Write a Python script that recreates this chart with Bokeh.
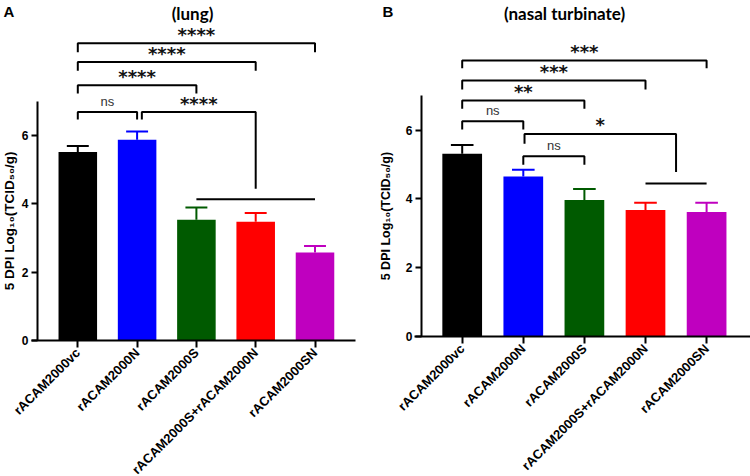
import numpy as np
from bokeh.plotting import figure
from bokeh.layouts import row
from bokeh.models import Range1d, FixedTicker, Label
from bokeh.core.properties import value
from bokeh.embed import file_html
from bokeh.resources import INLINE

# ---------------- data ----------------
groups = ["rACAM2000vc", "rACAM2000N", "rACAM2000S",
          "rACAM2000S+rACAM2000N", "rACAM2000SN"]
bar_colors = ["#000000", "#0000ff", "#005a00", "#ff0000", "#bf00bf"]

lung_mean = [5.51, 5.87, 3.53, 3.47, 2.57]
lung_sem = [0.18, 0.24, 0.36, 0.26, 0.19]

nasal_mean = [5.31, 4.65, 3.97, 3.68, 3.62]
nasal_sem = [0.26, 0.20, 0.32, 0.21, 0.27]

y_ticks = [0, 2, 4, 6]
y_axis_top = 7
y_title = "5 DPI Log\u2081\u2080(TCID\u2085\u2080/g)"

# significance brackets: (from, to, bar level, left leg end, right leg end, label)
lung_brackets = [
    (0, 4, 8.69, 8.43, 8.43, "****"),
    (0, 3, 8.14, 7.89, 7.89, "****"),
    (0, 2, 7.46, 7.22, 7.22, "****"),
    (0, 1, 6.68, 6.46, 6.46, "ns"),
    (1.08, 3.0, 6.68, 6.46, 4.44, "****"),
]
lung_group_lines = [(2, 4, 4.13)]

nasal_brackets = [
    (0, 4, 8.02, 7.80, 7.80, "***"),
    (0, 3, 7.44, 7.18, 7.18, "***"),
    (0, 2, 6.86, 6.62, 6.62, "**"),
    (0, 1, 6.26, 6.02, 6.02, "ns"),
    (1.02, 3.5, 5.89, 5.60, 4.78, "*"),
    (1.0, 2.0, 5.24, 4.99, 4.99, "ns"),
]
nasal_group_lines = [(3, 4, 4.45)]

FONT = "Liberation Sans"
W, H = 375, 476


def make_panel(title, letter, means, sems, brackets, group_lines,
               axis_px, first_px, step_px, zero_px, unit_px, xline_px,
               title_px, letter_px, ylabel_px, ylabel_size):
    # pixel geometry of the panel (figure coordinates) -> data ranges
    x0 = -first_px / step_px
    x1 = x0 + W / step_px
    y1 = zero_px / unit_px
    y0 = y1 - H / unit_px
    p = figure(width=W, height=H, output_backend="svg",
               toolbar_location=None, x_range=Range1d(x0, x1),
               y_range=Range1d(y0, y1), min_border=0)
    p.outline_line_color = None
    p.xgrid.visible = False
    p.ygrid.visible = False

    xs = np.arange(len(groups))
    means = np.array(means)
    tops = means + np.array(sems)

    p.vbar(x=xs, top=means, width=0.65, fill_color=bar_colors,
           line_color=None)
    p.segment(x0=xs, y0=means, x1=xs, y1=tops, line_color=bar_colors,
              line_width=2)
    p.segment(x0=xs - 0.185, y0=tops, x1=xs + 0.185, y1=tops,
              line_color=bar_colors, line_width=2)

    # brackets
    mx, my, lx, ly, lt = [], [], [], [], []
    for a, b, lev, la, lb, lab in brackets:
        mx.append([a, a, b, b])
        my.append([la, lev, lev, lb])
        lx.append((a + b) / 2)
        ly.append(lev)
        lt.append(lab)
    p.multi_line(xs=mx, ys=my, line_color="black", line_width=2)
    for a, b, lev in group_lines:
        p.segment(x0=[a], y0=[lev], x1=[b], y1=[lev], line_color="black",
                  line_width=2)

    star_x = [x for x, t in zip(lx, lt) if t != "ns"]
    star_y = [y for y, t in zip(ly, lt) if t != "ns"]
    star_t = [t for t in lt if t != "ns"]
    ns_x = [x for x, t in zip(lx, lt) if t == "ns"]
    ns_y = [y for y, t in zip(ly, lt) if t == "ns"]
    p.text(x=star_x, y=star_y, text=star_t, text_align="center",
           text_baseline="alphabetic", y_offset=-9,
           text_font=value("DejaVu Sans"), text_font_style="bold",
           text_font_size="18px", text_color="#111111")
    p.text(x=ns_x, y=ns_y, text=["ns"] * len(ns_x), text_align="center",
           text_baseline="alphabetic", y_offset=-11,
           text_font=value(FONT), text_font_size="13px",
           text_color="#333333")

    # axes (drawn at fixed data locations)
    xa = p.xaxis[0]
    xa.fixed_location = 0
    xa.bounds = ((xline_px[0] - first_px) / step_px,
                 (xline_px[1] - first_px) / step_px)
    xa.ticker = FixedTicker(ticks=list(range(len(groups))))
    xa.major_label_overrides = {i: g for i, g in enumerate(groups)}
    xa.major_label_orientation = np.pi / 4
    xa.major_label_text_font = FONT
    xa.major_label_text_font_style = "bold"
    xa.major_label_text_font_size = "13px"
    xa.major_label_standoff = 3
    xa.minor_tick_line_color = None
    xa.major_tick_in = 0
    xa.major_tick_out = 7

    ya = p.yaxis[0]
    ya.fixed_location = (axis_px - first_px) / step_px
    ya.ticker = FixedTicker(ticks=y_ticks)
    ya.bounds = (0, y_axis_top)
    ya.minor_tick_line_color = None
    ya.major_tick_in = 0
    ya.major_tick_out = 6
    ya.major_label_standoff = 3
    ya.major_label_text_font = FONT
    ya.major_label_text_font_style = "bold"
    ya.major_label_text_font_size = "12px"

    for ax in (xa, ya):
        ax.axis_line_width = 2
        ax.major_tick_line_width = 2
        ax.axis_line_color = "black"
        ax.major_tick_line_color = "black"
        ax.major_label_text_color = "black"

    # y-axis title, centred on the drawn axis (0..7)
    p.add_layout(Label(x=(ylabel_px - first_px) / step_px,
                       y=y_axis_top / 2, text=y_title, angle=np.pi / 2,
                       text_align="center", text_baseline="middle",
                       text_font=FONT, text_font_style="bold",
                       text_font_size=ylabel_size, text_color="black"))

    p.add_layout(Label(x=(title_px - first_px) / step_px,
                       y=y1 - 2 / unit_px, text=title, text_align="center",
                       text_baseline="top", text_font="Lato",
                       text_font_style="bold", text_font_size="17px",
                       text_color="black"))
    p.add_layout(Label(x=(letter_px - first_px) / step_px,
                       y=y1 - 2 / unit_px, text=letter,
                       text_align="left", text_baseline="top",
                       text_font=FONT, text_font_style="bold",
                       text_font_size="15px", text_color="black"))
    return p


# left panel (figure occupies page x 0..375)
p1 = make_panel("(lung)", "A", lung_mean, lung_sem, lung_brackets,
                lung_group_lines, axis_px=37, first_px=77.3, step_px=59.3,
                zero_px=340, unit_px=34.2, xline_px=(31, 355),
                title_px=192, letter_px=3, ylabel_px=8.5,
                ylabel_size="13.5px")
# right panel (figure occupies page x 375..750)
p2 = make_panel("(nasal turbinate)", "B", nasal_mean, nasal_sem,
                nasal_brackets, nasal_group_lines, axis_px=46,
                first_px=86.7, step_px=61.1, zero_px=336, unit_px=34.4,
                xline_px=(39.3, 375), title_px=189, letter_px=7,
                ylabel_px=10, ylabel_size="12.5px")

layout = row(p1, p2)
open("out.html", "w").write(file_html(layout, INLINE))
